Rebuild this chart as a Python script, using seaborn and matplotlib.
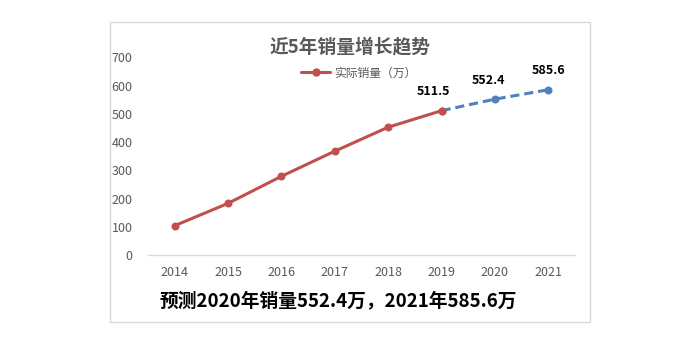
import matplotlib
matplotlib.use("Agg")
import matplotlib.pyplot as plt
import seaborn as sns
import pandas as pd
from matplotlib.patches import Rectangle
from matplotlib.lines import Line2D

years = [2014, 2015, 2016, 2017, 2018, 2019, 2020, 2021]
actual_years = [2014, 2015, 2016, 2017, 2018, 2019]
actual_values = [104, 183, 279, 368, 453, 511.5]
forecast_years = [2019, 2020, 2021]
forecast_values = [511.5, 552.4, 585.6]
label_years = [2019, 2020, 2021]
label_values = [511.5, 552.4, 585.6]
yticks = [0, 100, 200, 300, 400, 500, 600, 700]

title = "近5年销量增长趋势"
legend_label = "实际销量（万）"
bottom_text = "预测2020年销量552.4万，2021年585.6万"

sns.set_theme(style="white")
plt.rcParams['font.family'] = ['Noto Sans CJK SC', 'DejaVu Sans']

red = "#C0504D"
blue = "#4F81BD"
gray = "#595959"

fig = plt.figure(figsize=(7, 3.39), dpi=100)
ax = fig.add_axes([148/700, 1-255/339, 427/700, (255-57.5)/339])

df_a = pd.DataFrame({"year": actual_years, "value": actual_values})
df_f = pd.DataFrame({"year": forecast_years, "value": forecast_values})

sns.lineplot(data=df_f, x="year", y="value", ax=ax, color=blue, lw=2.2,
             linestyle=(0, (3, 1.6)), marker="o", markersize=5,
             markeredgecolor=blue, zorder=3)
sns.lineplot(data=df_a, x="year", y="value", ax=ax, color=red, lw=2.2,
             marker="o", markersize=5, markeredgecolor=red, zorder=4)

offsets = [(-6, 9), (-5, 9), (0, 9)]
for yr, v, off in zip(label_years, label_values, offsets):
    ax.annotate(f"{v}", (yr, v), xytext=off, textcoords="offset points",
                ha="center", va="bottom", fontsize=9, fontweight="bold",
                color="black")

ax.set_xlim(2013.5, 2021.5)
ax.set_ylim(0, 700)
ax.set_xticks(years)
ax.set_xticklabels([str(y) for y in years])
ax.set_yticks(yticks)
ax.set_yticklabels([str(t) for t in yticks])
ax.set_xlabel("")
ax.set_ylabel("")
ax.tick_params(axis="x", length=0, pad=8, labelsize=9, labelcolor=gray)
ax.tick_params(axis="y", length=0, pad=11, labelsize=9, labelcolor=gray)
for s in ["top", "right", "left"]:
    ax.spines[s].set_visible(False)
ax.spines["bottom"].set_color("#D9D9D9")
ax.spines["bottom"].set_linewidth(1)
ax.grid(False)
ax.set_facecolor("none")

fig.text(0.5, 1-47/339, title, ha="center", va="center", fontsize=13.5,
         fontweight="bold", color=gray)

handle = Line2D([], [], color=red, lw=2.2, marker="o", markersize=5)
fig.legend([handle], [legend_label], loc="center", bbox_to_anchor=(359/700, 1-73/339),
           frameon=False, fontsize=8.5, handlelength=2.4, handletextpad=0.4,
           labelcolor=gray)

fig.text(338/700, 1-301/339, bottom_text, ha="center", va="center",
         fontsize=13.5, fontweight="bold", color="black")

fig.patches.append(Rectangle((110/700, 1-322/339), 480/700, 300/339,
                             transform=fig.transFigure, fill=False,
                             edgecolor="#D9D9D9", lw=1))

fig.savefig("out.png", dpi=100, facecolor="white")
